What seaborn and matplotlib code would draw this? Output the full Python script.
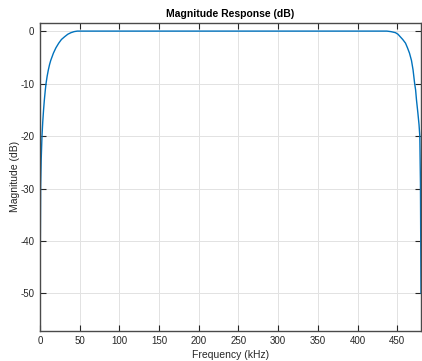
import matplotlib
matplotlib.use("Agg")
import matplotlib.pyplot as plt
import seaborn as sns
import pandas as pd

# Frequency (kHz) and magnitude (dB)
freq_khz = [0, 0.8, 1.5, 2.5, 3.5, 4.5, 5.5, 6.7, 7.6, 9.0, 10.5, 12.0, 13.5, 15.2,
            16.9, 20.0, 23.6, 27.0, 30.8, 35.0, 39.0, 43.0, 47.0, 60.0, 100.0,
            200.0, 300.0, 400.0, 430.0, 437.0, 442.0, 445.0, 447.8, 451.0, 454.0,
            457.0, 460.5, 463.0, 465.5, 468.0, 470.0, 472.0, 473.2, 474.3, 476.0,
            477.5, 478.5, 479.3, 480.0]
mag_db = [-52.0, -29.5, -24.5, -20.0, -17.2, -15.0, -13.1, -11.2, -10.0, -8.6,
          -7.4, -6.4, -5.6, -4.9, -4.2, -3.2, -2.3, -1.6, -1.1, -0.6, -0.3, -0.1,
          0.0, 0.0, 0.0, 0.0, 0.0, 0.0, 0.0, 0.0, -0.1, -0.2, -0.3, -0.6, -1.1,
          -1.6, -2.3, -3.2, -4.2, -5.6, -7.4, -10.0, -11.2, -13.1, -15.5, -17.8,
          -20.0, -29.0, -50.0]

x_ticks = [0, 50, 100, 150, 200, 250, 300, 350, 400, 450]
y_ticks = [-50, -40, -30, -20, -10, 0]

df = pd.DataFrame({"Frequency (kHz)": freq_khz, "Magnitude (dB)": mag_db})

sns.set_theme(style="whitegrid")
plt.rcParams["font.family"] = ["Liberation Sans", "DejaVu Sans"]

fig = plt.figure(figsize=(4.22, 3.61), dpi=100)
ax = fig.add_axes([40 / 422, 1 - 330.7 / 361, (421 - 40) / 422, (330.7 - 22.7) / 361])

sns.lineplot(data=df, x="Frequency (kHz)", y="Magnitude (dB)", ax=ax,
             color="#0072BD", linewidth=1.0, estimator=None)

ax.set_xlim(0, 480)
ax.set_ylim(-57.1, 1.6)
ax.set_xticks(x_ticks)
ax.set_yticks(y_ticks)
ax.set_xticklabels([str(t) for t in x_ticks])
ax.set_yticklabels([str(t) for t in y_ticks])

ax.set_facecolor("white")
ax.grid(True, color="#e2e2e2", linewidth=0.7)
for s in ax.spines.values():
    s.set_visible(True)
    s.set_color("#4a4a4a")
    s.set_linewidth(1.0)

ax.tick_params(axis="both", which="both", direction="in", length=4, width=0.8,
               color="#262626", labelsize=7, labelcolor="#262626",
               top=True, right=True, bottom=True, left=True, pad=4)

ax.set_title("Magnitude Response (dB)", fontsize=7.5, fontweight="bold",
             color="black", pad=4)
ax.set_xlabel("Frequency (kHz)", fontsize=7.5, color="#262626", labelpad=3)
ax.set_ylabel("Magnitude (dB)", fontsize=7.5, color="#262626", labelpad=0)

fig.savefig("out.png", dpi=100, facecolor="white")
